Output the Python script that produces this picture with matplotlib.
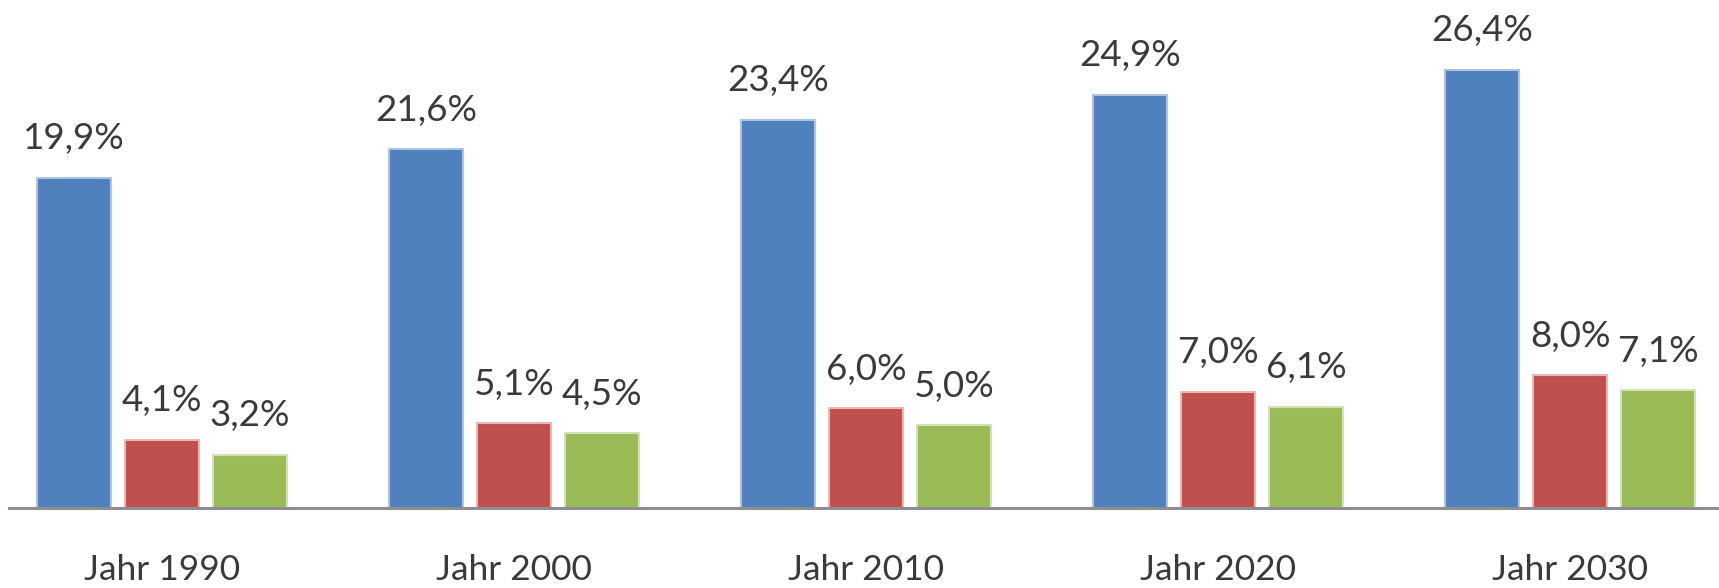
import numpy as np
import matplotlib.pyplot as plt

# data
jahre = ['Jahr 1990', 'Jahr 2000', 'Jahr 2010', 'Jahr 2020', 'Jahr 2030']
serie_a = [19.9, 21.6, 23.4, 24.9, 26.4]
serie_b = [4.1, 5.1, 6.0, 7.0, 8.0]
serie_c = [3.2, 4.5, 5.0, 6.1, 7.1]

farben = ['#4F81BD', '#C0504D', '#9BBB59']
kanten = ['#aec3e0', '#e8b7b6', '#d3e2b8']

plt.rcParams['font.family'] = ['Lato', 'DejaVu Sans']

fig = plt.figure(figsize=(17.19, 5.88), dpi=100)
ax = fig.add_axes([0, 0, 1, 1])

x = np.arange(len(jahre))
pitch = 0.25
width = 0.21
px_per_unit = 16.6

for k, (werte, farbe, kante) in enumerate(zip([serie_a, serie_b, serie_c], farben, kanten)):
    pos = x + (k - 1) * pitch
    bars = ax.bar(pos, werte, width, color=farbe, edgecolor=kante, linewidth=1.5, zorder=2)
    for b, v in zip(bars, werte):
        ax.annotate(f'{v:.1f}%'.replace('.', ','),
                    (b.get_x() + b.get_width() / 2, v),
                    xytext=(0, 20.5), textcoords='offset points',
                    ha='center', va='baseline', fontsize=26.5, color='#3a3a3a')

# baseline
ax.axhline(0, xmin=9 / 1719, xmax=1, color='#8e8e8e', linewidth=2.2, zorder=3)

for xi, lab in zip(x, jahre):
    ax.text(xi, -62 / px_per_unit, lab, ha='center', va='center', fontsize=25.5, color='#3a3a3a')

ax.set_xlim(-162 / 352, (1719 - 162) / 352)
ax.set_ylim(-80 / px_per_unit, 508 / px_per_unit)
ax.axis('off')

fig.savefig('out.png', dpi=100)
